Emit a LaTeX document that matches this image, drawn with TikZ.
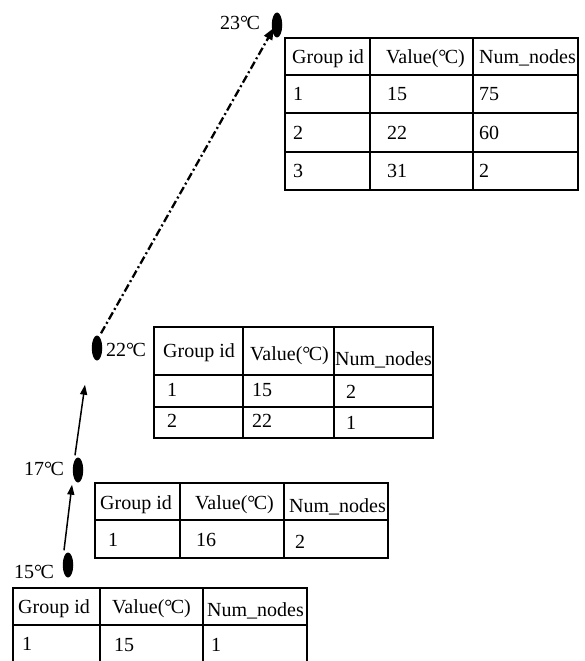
\documentclass[tikz,border=0pt]{standalone}
\usepackage{fontspec}
\setmainfont{Liberation Serif}
\usetikzlibrary{arrows.meta,shapes.geometric}
\newcommand{\dC}{°\kern-0.08em C}
\begin{document}
\begin{tikzpicture}[x=1pt,y=-1pt,
  cell/.style={anchor=west,inner sep=0pt,text height=13pt,text depth=4pt,font=\fontsize{20}{24}\selectfont},
  grid/.style={line width=1.9pt},
  blob/.style={ellipse,fill=black,inner sep=0pt,minimum width=10.5pt,minimum height=25pt},
  solidarrow/.style={line width=1.5pt,-{Triangle[length=10pt,width=7pt]}},
  dasharrow/.style={line width=2.3pt,dash pattern=on 8pt off 3pt on 2pt off 3pt,-{Triangle[length=12pt,width=9pt]}}]
\useasboundingbox (0,0) rectangle (585,661);

% ---------- table at 23 C ----------
\draw[grid] (285,38) rectangle (578,190);
\foreach \x in {370,473} \draw[grid] (\x,38) -- (\x,190);
\foreach \y in {75,113,152} \draw[grid] (285,\y) -- (578,\y);
\node[cell] (a-h1) at (292,59) {Group id};
\node[cell] (a-h2) at (386,59) {Value(\dC)};
\node[cell] (a-h3) at (479,59) {Num\_nodes};
\node[cell] (a-11) at (293,96) {1};
\node[cell] (a-12) at (387,96) {15};
\node[cell] (a-13) at (479,96) {75};
\node[cell] (a-21) at (293,135) {2};
\node[cell] (a-22) at (387,135) {22};
\node[cell] (a-23) at (479,135) {60};
\node[cell] (a-31) at (293,173) {3};
\node[cell] (a-32) at (387,173) {31};
\node[cell] (a-33) at (479,173) {2};

% ---------- table at 22 C ----------
\draw[grid] (154,327) rectangle (433,438);
\foreach \x in {243,334} \draw[grid] (\x,327) -- (\x,438);
\foreach \y in {375,407} \draw[grid] (154,\y) -- (433,\y);
\node[cell] (b-h1) at (163,353) {Group id};
\node[cell] (b-h2) at (250,356) {Value(\dC)};
\node[cell] (b-h3) at (335,361) {Num\_nodes};
\node[cell] (b-11) at (167,392) {1};
\node[cell] (b-12) at (252,392) {15};
\node[cell] (b-13) at (346,394) {2};
\node[cell] (b-21) at (167,423) {2};
\node[cell] (b-22) at (252,423) {22};
\node[cell] (b-23) at (346,425) {1};

% ---------- table at 17 C ----------
\draw[grid] (95,483) rectangle (388,558);
\foreach \x in {180,284} \draw[grid] (\x,483) -- (\x,558);
\draw[grid] (95,520) -- (388,520);
\node[cell] (c-h1) at (100,505) {Group id};
\node[cell] (c-h2) at (195,505) {Value(\dC)};
\node[cell] (c-h3) at (289,508) {Num\_nodes};
\node[cell] (c-11) at (108,542) {1};
\node[cell] (c-12) at (196,542) {16};
\node[cell] (c-13) at (295,544) {2};

% ---------- table at 15 C ----------
\draw[grid] (13,661) -- (13,588) -- (307,588) -- (307,661);
\foreach \x in {100,203} \draw[grid] (\x,588) -- (\x,661);
\draw[grid] (13,625) -- (307,625);
\node[cell] (d-h1) at (18,609) {Group id};
\node[cell] (d-h2) at (112,609) {Value(\dC)};
\node[cell] (d-h3) at (207,612) {Num\_nodes};
\node[cell] (d-11) at (22,646) {1};
\node[cell] (d-12) at (114,647) {15};
\node[cell] (d-13) at (211,647) {1};

% ---------- states ----------
\node[blob] (e23) at (277,25) {};
\node[blob] (e22) at (97,348) {};
\node[blob] (e17) at (78,470) {};
\node[blob] (e15) at (68,565) {};
\node[cell] (l23) at (220,25) {23\dC};
\node[cell] (l22) at (106,352) {22\dC};
\node[cell] (l17) at (24,471) {17\dC};
\node[cell] (l15) at (14,574) {15\dC};

% ---------- transitions ----------
\draw[solidarrow] ([xshift=-4pt,yshift=2pt]e15.north) -- ([xshift=-6pt,yshift=-2pt]e17.south);
\draw[solidarrow] ([xshift=-3pt,yshift=2pt]e17.north) -- ([xshift=-12pt,yshift=-24pt]e22.south);
\draw[dasharrow] ([xshift=4pt,yshift=2pt]e22.north) -- ([xshift=-3pt,yshift=10pt]e23.south);
\end{tikzpicture}
\end{document}
